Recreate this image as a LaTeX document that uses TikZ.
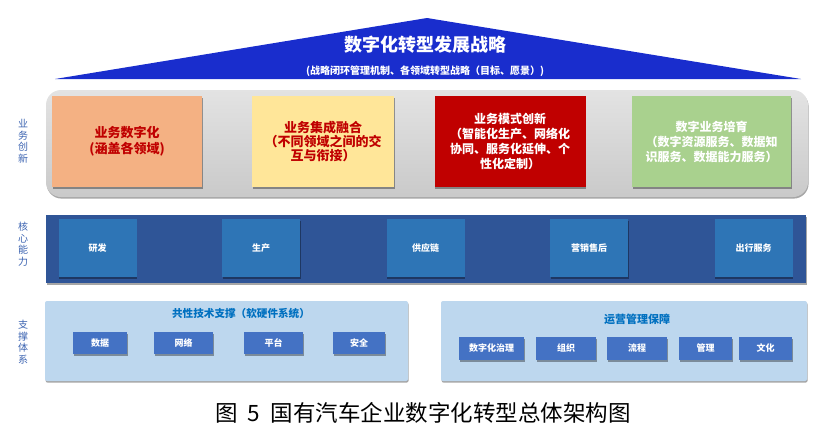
\documentclass[tikz,border=0pt]{standalone}
\usepackage{fontspec}
\setmainfont{Noto Sans CJK SC}
\usetikzlibrary{shadows}
\definecolor{stratblue}{RGB}{25,45,205}
\definecolor{innored}{RGB}{192,0,0}
\definecolor{innoorange}{RGB}{244,177,131}
\definecolor{innoyellow}{RGB}{255,230,153}
\definecolor{innogreen}{RGB}{169,209,142}
\definecolor{coreband}{RGB}{47,85,151}
\definecolor{coreblue}{RGB}{46,117,182}
\definecolor{suppanel}{RGB}{189,215,238}
\definecolor{supblue}{RGB}{68,114,196}
\definecolor{suptitle}{RGB}{0,112,192}
\definecolor{sideblue}{RGB}{58,98,176}
\tikzset{
  boxshadow/.style={drop shadow={shadow xshift=0.6pt, shadow yshift=-1.6pt, opacity=0.35, fill=black}},
  innobox/.style={boxshadow, inner sep=0pt, align=center, minimum height=91pt, font=\bfseries\fontsize{13}{16}\selectfont},
  corecell/.style={boxshadow, fill=coreblue, minimum width=78pt, minimum height=58pt, inner sep=0pt, text=white, font=\bfseries\fontsize{9}{11}\selectfont},
  supcell/.style={boxshadow, fill=supblue, minimum height=22pt, inner sep=0pt, text=white, font=\bfseries\fontsize{9}{11}\selectfont},
  suphead/.style={text=suptitle, font=\bfseries\fontsize{11}{13}\selectfont},
  sidelabel/.style={text=sideblue, align=center, font=\fontsize{10}{11.5}\selectfont},
}
\begin{document}
\begin{tikzpicture}[x=1pt, y=-1pt]
\useasboundingbox (0,0) rectangle (832,437);
% strategy roof
\fill[stratblue] (55,79) -- (427,18) -- (801,79) -- cycle;
\node[text=white, font=\bfseries\fontsize{18}{20}\selectfont] (strattitle) at (425,45) {数字化转型发展战略};
\node[text=white, font=\bfseries\fontsize{10}{12}\selectfont] (stratsub) at (425,71) {(战略闭环管理机制、各领域转型战略（目标、愿景）)};
% business innovation
\node[boxshadow, rounded corners=15pt, top color=gray!22, bottom color=gray!42, minimum width=762pt, minimum height=107pt] (innopanel) at (427,143.5) {};
\node[innobox, fill=innoorange, text=innored, minimum width=150pt] (digit) at (127,141.5) {业务数字化\\(涵盖各领域)};
\node[innobox, fill=innoyellow, text=innored, minimum width=142pt, font=\bfseries\fontsize{13}{14}\selectfont] (integ) at (323,141.5) {业务集成融合\\（不同领域之间的交\\互与衔接）};
\node[innobox, fill=innored, text=white, minimum width=151pt, font=\bfseries\fontsize{12}{15}\selectfont] (model) at (510,141.5) {业务模式创新\\（智能化生产、网络化\\协同、服务化延伸、个\\性化定制）};
\node[innobox, fill=innogreen, text=white, minimum width=159pt, font=\bfseries\fontsize{12}{15}\selectfont] (nurture) at (711.5,141.5) {数字业务培育\\（数字资源服务、数据知\\识服务、数据能力服务）};
% core capability
\node[boxshadow, fill=coreband, minimum width=760pt, minimum height=68pt, inner sep=0pt] (coreband) at (426,249) {};
\node[corecell] (rnd) at (97.5,248) {研发};
\node[corecell] (prod) at (261,248) {生产};
\node[corecell] (supply) at (425.5,248) {供应链};
\node[corecell] (sales) at (589,248) {营销售后};
\node[corecell] (mobility) at (753.5,248) {出行服务};
% support system
\node[boxshadow, fill=suppanel, rounded corners=2pt, minimum width=363pt, minimum height=80pt] (techpanel) at (226.5,341) {};
\node[boxshadow, fill=suppanel, rounded corners=2pt, minimum width=366pt, minimum height=80pt] (oppanel) at (624,341) {};
\node[suphead, font=\bfseries\fontsize{10.6}{13}\selectfont] (techhead) at (241,313) {共性技术支撑（软硬件系统）};
\node[suphead] (ophead) at (637,319) {运营管理保障};
\node[supcell, minimum width=54pt] (data) at (100,343) {数据};
\node[supcell, minimum width=59pt] (network) at (183.5,343) {网络};
\node[supcell, minimum width=59pt] (platform) at (273.5,343) {平台};
\node[supcell, minimum width=52pt] (security) at (359,343) {安全};
\node[supcell, minimum width=65pt, minimum height=23pt] (govern) at (491.5,348.5) {数字化治理};
\node[supcell, minimum width=60pt, minimum height=23pt] (organ) at (566,348.5) {组织};
\node[supcell, minimum width=60pt, minimum height=23pt] (process) at (637,348.5) {流程};
\node[supcell, minimum width=53pt, minimum height=23pt] (manage) at (705.5,348.5) {管理};
\node[supcell, minimum width=53pt, minimum height=23pt] (culture) at (765.5,348.5) {文化};
% side labels
\node[sidelabel] (innolabel) at (23,141) {业\\务\\创\\新};
\node[sidelabel] (corelabel) at (23,244) {核\\心\\能\\力};
\node[sidelabel] (suplabel) at (23,342) {支\\撑\\体\\系};
% caption
\node[font=\fontsize{22.5}{25}\selectfont] (caption) at (423,413) {图\hspace{0.45em}5\hspace{0.45em}国有汽车企业数字化转型总体架构图};
\end{tikzpicture}
\end{document}
